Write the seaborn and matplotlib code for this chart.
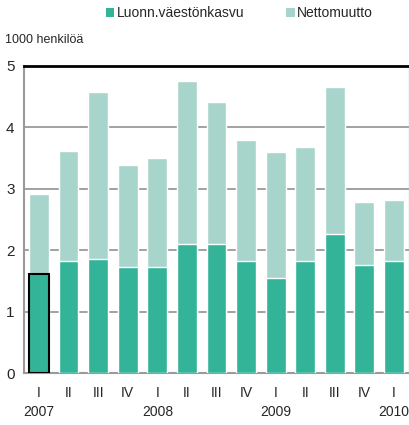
import matplotlib
matplotlib.use("Agg")
import matplotlib.pyplot as plt
from matplotlib.patches import Patch
import seaborn as sns
import pandas as pd
import numpy as np

# Data (1000 persons), quarterly 2007 I - 2010 I
quarters = ['I', 'II', 'III', 'IV', 'I', 'II', 'III', 'IV', 'I', 'II', 'III', 'IV', 'I']
years = ['2007', '', '', '', '2008', '', '', '', '2009', '', '', '', '2010']
luonnollinen = [1.62, 1.82, 1.86, 1.73, 1.73, 2.10, 2.10, 1.82, 1.55, 1.82, 2.27, 1.76, 1.82]
nettomuutto = [1.30, 1.80, 2.72, 1.66, 1.77, 2.65, 2.32, 1.98, 2.05, 1.86, 2.39, 1.02, 1.00]

GREEN = '#33b498'
LIGHT = '#a8d5cb'
GRAY = '#9a9a9a'

sns.set_style('white')
plt.rcParams['font.family'] = ['Liberation Sans', 'DejaVu Sans']

df = pd.DataFrame({
    'pos': [str(i) for i in range(len(quarters))],
    'luonn': luonnollinen,
    'total': np.array(luonnollinen) + np.array(nettomuutto),
})

fig = plt.figure(figsize=(4.10, 4.25), dpi=100)
ax = fig.add_axes([0.059, 0.122, 0.938, 0.723])

sns.barplot(data=df, x='pos', y='total', color=LIGHT, width=0.67,
            saturation=1, ax=ax, zorder=2)
sns.barplot(data=df, x='pos', y='luonn', color=GREEN, width=0.67,
            saturation=1, ax=ax, zorder=3)

# highlight first bar
green_bars = ax.patches[len(df):]
green_bars[0].set_edgecolor('black')
green_bars[0].set_linewidth(1.5)

ax.set_ylim(0, 5)
ax.set_xlim(-0.5, len(df) - 0.5)
ax.set_yticks(range(6))
ax.yaxis.grid(True, color=GRAY, linewidth=1.3, zorder=0)
ax.set_axisbelow(True)
ax.set_xlabel('')
ax.set_ylabel('')

ax.set_xticks(range(len(df)))
ax.set_xticklabels([f'{q}\n{y}' for q, y in zip(quarters, years)], fontsize=10,
                   linespacing=1.45)
ax.tick_params(axis='x', length=0, pad=9)
ax.set_xticks(np.arange(-0.5, len(df), 1), minor=True)
ax.tick_params(axis='x', which='minor', length=4, color=GRAY, width=1.2, direction='out')
ax.tick_params(axis='y', labelsize=11, length=4, color=GRAY, width=1.2, direction='out', pad=3)

for s in ['left', 'bottom']:
    ax.spines[s].set_color(GRAY)
    ax.spines[s].set_linewidth(1.5)
ax.spines['right'].set_color('#cccccc')
ax.spines['right'].set_linewidth(1)
ax.spines['top'].set_color('black')
ax.spines['top'].set_linewidth(2)

fig.text(0.012, 0.906, '1000 henkilöä', fontsize=9, ha='left', va='center')

handles = [Patch(facecolor=GREEN, edgecolor='none'), Patch(facecolor=LIGHT, edgecolor='none')]
ax.legend(handles, ['Luonn.väestönkasvu', 'Nettomuutto'],
          loc='center', bbox_to_anchor=(0.56, 1.172), ncol=2, frameon=False,
          fontsize=10, handlelength=0.6, handleheight=0.6, handletextpad=0.2,
          columnspacing=3.0, borderaxespad=0)

fig.savefig('out.png', dpi=100)
